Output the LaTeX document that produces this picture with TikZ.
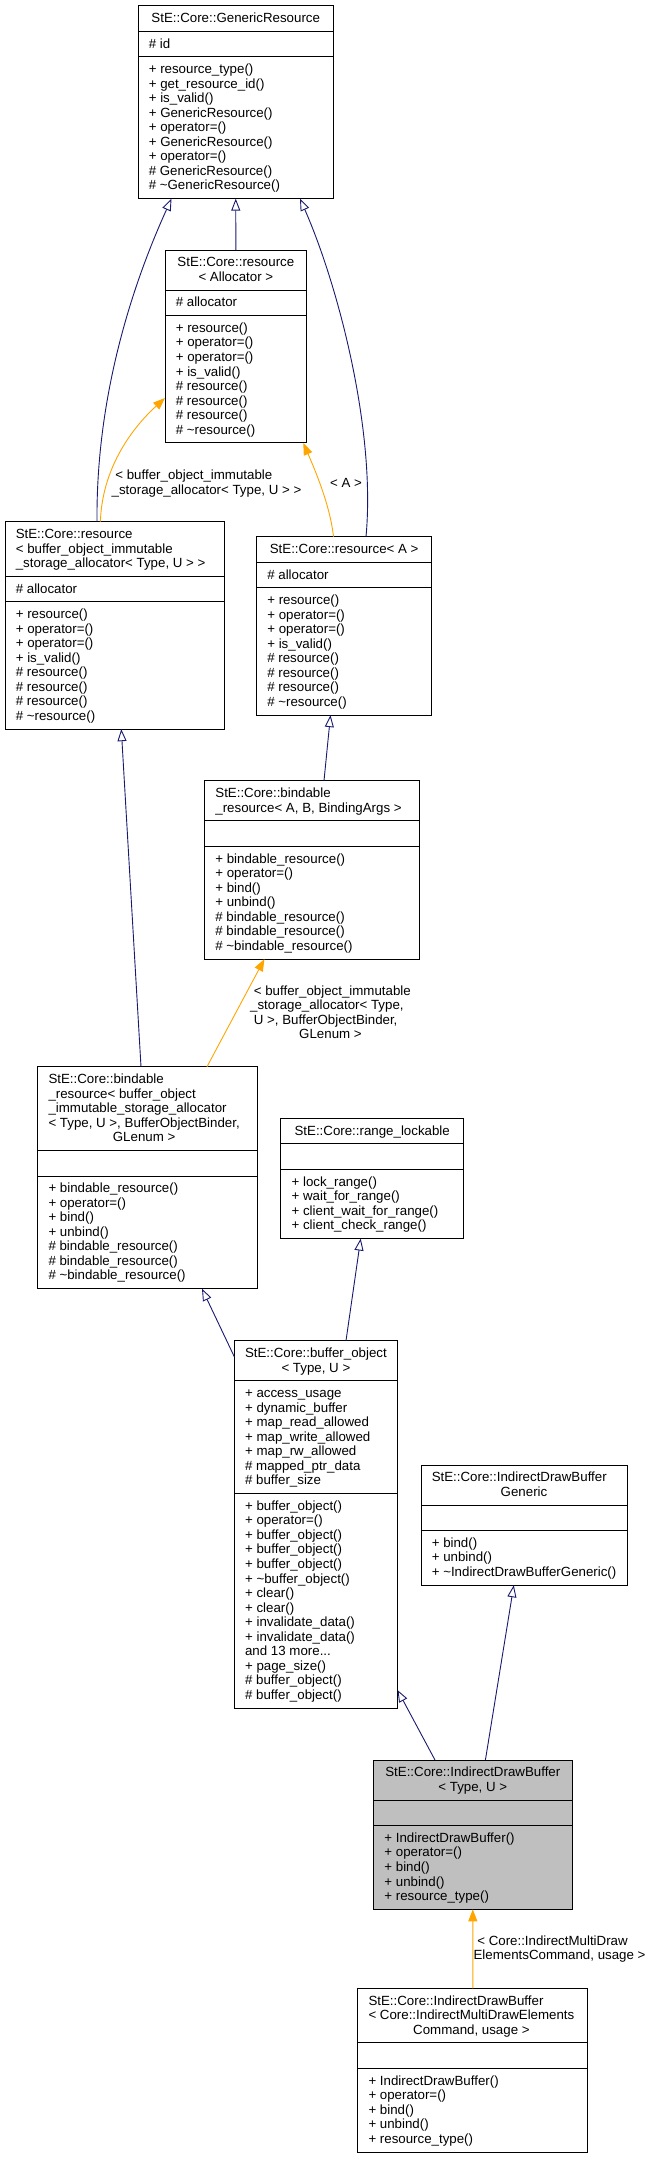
\documentclass[tikz,border=0pt]{standalone}
\usepackage{fontspec}
\setmainfont{Liberation Sans}
\usetikzlibrary{arrows.meta,calc}
\definecolor{edgeblue}{HTML}{191970}
\definecolor{edgeorange}{HTML}{FFA500}
\definecolor{hlgray}{HTML}{BFBFBF}
\newcommand\umlfont{\fontsize{13.3}{14.54}\selectfont}
\newcommand\ltab[1]{\begin{tabular}[t]{@{}l@{}}#1\end{tabular}}
\newcommand\ctab[1]{\begin{tabular}[t]{@{}c@{}}#1\end{tabular}}
\newcommand\mcc[1]{\multicolumn{1}{@{}c@{}}{#1}}
\newcommand\umltld{\textasciitilde}
\newcommand\umlbox[8]{%
  \pgfmathsetmacro\hA{14.54*#5+11}%
  \pgfmathsetmacro\hB{14.54*max(#6,1)+11}%
  \pgfmathsetmacro\hC{14.54*#7+11}%
  \pgfmathsetmacro\hT{\hA+\hB+\hC}%
  \pgfmathsetmacro\wB{#3-#2}%
  \node[umlframe, fill=#8, minimum width=\wB pt, minimum height=\hT pt] (#1) at (#2,#4) {};
  \draw[umlsep] ($(#1.north west)+(0,\hA)$) -- ($(#1.north east)+(0,\hA)$);
  \draw[umlsep] ($(#1.north west)+(0,\hA+\hB)$) -- ($(#1.north east)+(0,\hA+\hB)$);
  \coordinate (#1-t) at ($(#1.north west)+(10.8,16.8)$);
  \coordinate (#1-c) at ($(#1.north)+(0,16.8)$);
  \coordinate (#1-a) at ($(#1.north west)+(10.8,\hA+16.8)$);
  \coordinate (#1-m) at ($(#1.north west)+(10.8,\hA+\hB+16.8)$);
}
\begin{document}
\begin{tikzpicture}[x=1pt,y=-1pt,
  umlframe/.style={draw=black, line width=0.9pt, rectangle, anchor=north west, inner sep=0pt, outer sep=0pt},
  umlsep/.style={draw=black, line width=0.9pt},
  txt/.style={font=\umlfont, inner sep=0pt, outer sep=0pt, text=black},
  lt/.style={txt, anchor=base west},
  ct/.style={txt, anchor=base},
  inh/.style={draw=edgeblue, line width=0.9pt, -{Triangle[open,length=12pt,width=9pt]}},
  tmpl/.style={draw=edgeorange, line width=0.9pt, -{Triangle[length=12pt,width=9pt]}}]
\useasboundingbox (0,0) rectangle (653,2159);

% ---------- boxes ----------
\umlbox{gr}{138}{333.5}{5.7}{1}{1}{9}{white}
\umlbox{ra}{165}{306.7}{250}{2}{1}{8}{white}
\umlbox{rbo}{5}{224.7}{521.7}{3}{1}{8}{white}
\umlbox{raa}{256.5}{431.8}{536.7}{1}{1}{8}{white}
\umlbox{brabc}{204.6}{419.2}{780.7}{2}{0}{7}{white}
\umlbox{bbo}{37.7}{257}{1066.7}{5}{0}{7}{white}
\umlbox{rl}{280.8}{463.6}{1118.3}{1}{0}{4}{white}
\umlbox{bo}{234.3}{397.5}{1340.7}{2}{7}{14}{white}
\umlbox{idbg}{421}{627}{1465}{2}{0}{3}{white}
\umlbox{idb}{373.6}{572}{1760}{2}{0}{5}{hlgray}
\umlbox{child}{357.7}{587.9}{1988.3}{3}{0}{5}{white}

% ---------- texts ----------
\node[ct] (gr-title) at (gr-c) {StE::Core::GenericResource};
\node[lt] (gr-attr) at (gr-a) {\# id};
\node[lt] (gr-meth) at (gr-m) {\ltab{+ resource\_type()\\ + get\_resource\_id()\\ + is\_valid()\\ + GenericResource()\\ + operator=()\\ + GenericResource()\\ + operator=()\\ \# GenericResource()\\ \# \umltld GenericResource()}};

\node[ct] (ra-title) at (ra-c) {\ctab{StE::Core::resource\\ < Allocator >}};
\node[lt] (ra-attr) at (ra-a) {\# allocator};
\node[lt] (ra-meth) at (ra-m) {\ltab{+ resource()\\ + operator=()\\ + operator=()\\ + is\_valid()\\ \# resource()\\ \# resource()\\ \# resource()\\ \# \umltld resource()}};

\node[lt] (rbo-title) at (rbo-t) {\ltab{StE::Core::resource\\ < buffer\_object\_immutable\\ \_storage\_allocator< Type, U > >}};
\node[lt] (rbo-attr) at (rbo-a) {\# allocator};
\node[lt] (rbo-meth) at (rbo-m) {\ltab{+ resource()\\ + operator=()\\ + operator=()\\ + is\_valid()\\ \# resource()\\ \# resource()\\ \# resource()\\ \# \umltld resource()}};

\node[ct] (raa-title) at (raa-c) {StE::Core::resource< A >};
\node[lt] (raa-attr) at (raa-a) {\# allocator};
\node[lt] (raa-meth) at (raa-m) {\ltab{+ resource()\\ + operator=()\\ + operator=()\\ + is\_valid()\\ \# resource()\\ \# resource()\\ \# resource()\\ \# \umltld resource()}};

\node[lt] (brabc-title) at (brabc-t) {\ltab{StE::Core::bindable\\ \_resource< A, B, BindingArgs >}};
\node[lt] (brabc-meth) at (brabc-m) {\ltab{+ bindable\_resource()\\ + operator=()\\ + bind()\\ + unbind()\\ \# bindable\_resource()\\ \# bindable\_resource()\\ \# \umltld bindable\_resource()}};

\node[lt] (bbo-title) at (bbo-t) {\ltab{StE::Core::bindable\\ \_resource< buffer\_object\\ \_immutable\_storage\_allocator\\ < Type, U >, BufferObjectBinder,\\ \mcc{GLenum >}}};
\node[lt] (bbo-meth) at (bbo-m) {\ltab{+ bindable\_resource()\\ + operator=()\\ + bind()\\ + unbind()\\ \# bindable\_resource()\\ \# bindable\_resource()\\ \# \umltld bindable\_resource()}};

\node[ct] (rl-title) at (rl-c) {StE::Core::range\_lockable};
\node[lt] (rl-meth) at (rl-m) {\ltab{+ lock\_range()\\ + wait\_for\_range()\\ + client\_wait\_for\_range()\\ + client\_check\_range()}};

\node[ct] (bo-title) at (bo-c) {\ctab{StE::Core::buffer\_object\\ < Type, U >}};
\node[lt] (bo-attr) at (bo-a) {\ltab{+ access\_usage\\ + dynamic\_buffer\\ + map\_read\_allowed\\ + map\_write\_allowed\\ + map\_rw\_allowed\\ \# mapped\_ptr\_data\\ \# buffer\_size}};
\node[lt] (bo-meth) at (bo-m) {\ltab{+ buffer\_object()\\ + operator=()\\ + buffer\_object()\\ + buffer\_object()\\ + buffer\_object()\\ + \umltld buffer\_object()\\ + clear()\\ + clear()\\ + invalidate\_data()\\ + invalidate\_data()\\ and 13 more...\\ + page\_size()\\ \# buffer\_object()\\ \# buffer\_object()}};

\node[lt] (idbg-title) at (idbg-t) {StE::Core::IndirectDrawBuffer};
\node[ct] (idbg-title2) at ($(idbg-c)+(0,14.54)$) {Generic};
\node[lt] (idbg-meth) at (idbg-m) {\ltab{+ bind()\\ + unbind()\\ + \umltld IndirectDrawBufferGeneric()}};

\node[ct] (idb-title) at (idb-c) {\ctab{StE::Core::IndirectDrawBuffer\\ < Type, U >}};
\node[lt] (idb-meth) at (idb-m) {\ltab{+ IndirectDrawBuffer()\\ + operator=()\\ + bind()\\ + unbind()\\ + resource\_type()}};

\node[lt] (child-title) at (child-t) {\ltab{StE::Core::IndirectDrawBuffer\\ < Core::IndirectMultiDrawElements\\ \mcc{Command, usage >}}};
\node[lt] (child-meth) at (child-m) {\ltab{+ IndirectDrawBuffer()\\ + operator=()\\ + bind()\\ + unbind()\\ + resource\_type()}};

% ---------- connectors ----------
\draw[inh] (ra.north) -- (gr.south);
\draw[inh] ($(rbo.north west)+(92,0)$) .. controls (96,400) and (130,290) .. ($(gr.south west)+(33.5,0)$);
\draw[inh] ($(raa.north west)+(109.5,0)$) .. controls (376,430) and (338,285) .. ($(gr.south west)+(162,0)$);
\draw[tmpl] ($(rbo.north west)+(95.4,0)$) .. controls (102,470) and (130,430) .. ($(ra.north west)+(0,148)$);
\draw[tmpl] ($(raa.north west)+(77,0)$) .. controls (330,505) and (315,470) .. ($(ra.south west)+(138.3,0)$);
\draw[inh] ($(bbo.north west)+(103.3,0)$) -- ($(rbo.south west)+(116.3,0)$);
\draw[inh] ($(brabc.north west)+(119.4,0)$) -- ($(raa.south west)+(74,0)$);
\draw[tmpl] ($(bbo.north west)+(169.3,0)$) -- ($(brabc.south west)+(59.8,0)$);
\draw[inh] ($(bo.north west)+(111.7,0)$) -- ($(rl.south west)+(79.9,0)$);
\draw[inh] ($(bo.north west)+(0,16)$) -- ($(bbo.south west)+(164.3,0)$);
\draw[inh] ($(idb.north west)+(61.4,0)$) -- ($(bo.north east)+(0,349.3)$);
\draw[inh] ($(idb.north west)+(111.8,0)$) -- ($(idbg.south west)+(92.8,0)$);
\draw[tmpl] (child.north) -- (idb.south);

% ---------- connector labels ----------
\node[lt] (lab-rbo) at (111.7,479.5) {\ltab{\ < buffer\_object\_immutable\\ \_storage\_allocator< Type, U > >}};
\node[ct] (lab-raa) at (346,487.2) {< A >};
\node[lt] (lab-bbo) at (250.2,995.2) {\ltab{\ < buffer\_object\_immutable\\ \_storage\_allocator< Type,\\ \ U >, BufferObjectBinder,\\ \mcc{GLenum >}}};
\node[lt] (lab-child) at (473.6,1945.2) {\ltab{\ < Core::IndirectMultiDraw\\ ElementsCommand, usage >}};
\end{tikzpicture}
\end{document}
